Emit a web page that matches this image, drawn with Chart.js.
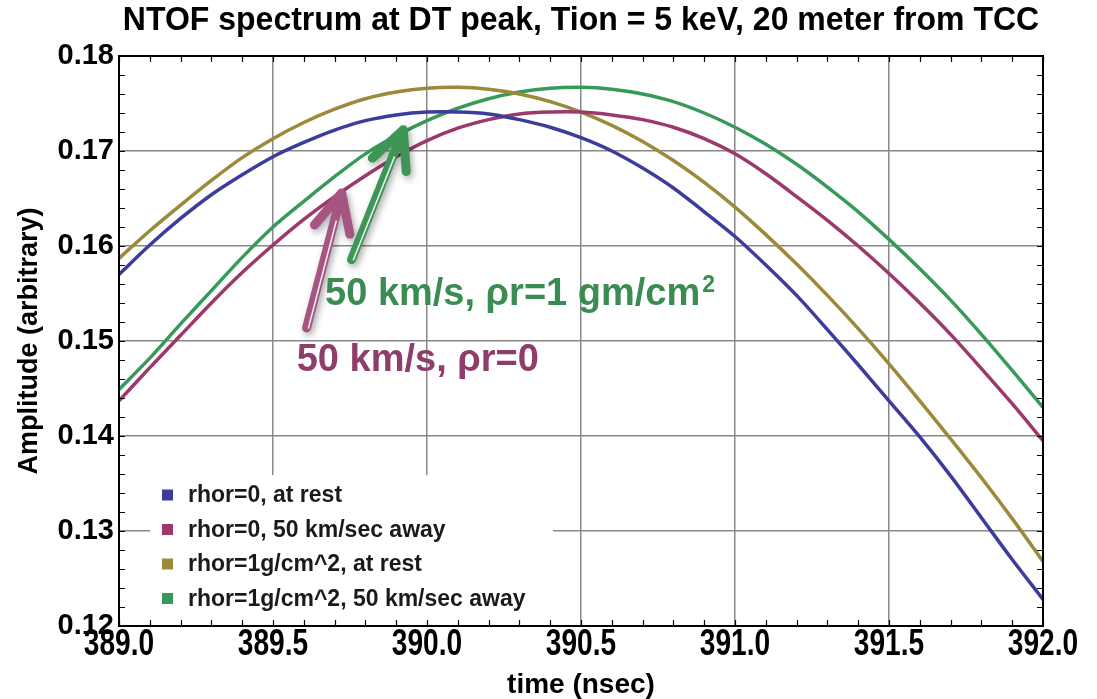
<!DOCTYPE html>
<html>
<head>
<meta charset="utf-8">
<script src="https://cdn.jsdelivr.net/npm/chart.js@4.4.0/dist/chart.umd.min.js"></script>
<style>
  html, body { margin: 0; padding: 0; background: #fff; }
  #wrap { width: 1097px; height: 699px; position: relative; }
</style>
</head>
<body>
<div id="wrap"><canvas id="ntofChart"></canvas></div>
<script>
// time of flight (nsec)
const times = [389.0, 389.1, 389.2, 389.3, 389.4, 389.5, 389.6, 389.7, 389.8, 389.9,
               390.0, 390.1, 390.2, 390.3, 390.4, 390.5, 390.6, 390.7, 390.8, 390.9,
               391.0, 391.1, 391.2, 391.3, 391.4, 391.5, 391.6, 391.7, 391.8, 391.9, 392.0];

// amplitude (arbitrary)
const rho0Rest = [0.1570, 0.1601, 0.1629, 0.1654, 0.1675, 0.1694, 0.1709, 0.1722, 0.1732, 0.1738,
                  0.1741, 0.1741, 0.1739, 0.1733, 0.1725, 0.1714, 0.1700, 0.1682, 0.1661, 0.1636,
                  0.1610, 0.1580, 0.1548, 0.1512, 0.1475, 0.1437, 0.1399, 0.1358, 0.1314, 0.1270, 0.1228];
const rho0Away = [0.1437, 0.1472, 0.1506, 0.1540, 0.1572, 0.1601, 0.1628, 0.1652, 0.1674, 0.1694,
                  0.1711, 0.1724, 0.1733, 0.1739, 0.1741, 0.1741, 0.1738, 0.1733, 0.1725, 0.1713,
                  0.1697, 0.1676, 0.1652, 0.1627, 0.1600, 0.1571, 0.1540, 0.1507, 0.1471, 0.1434, 0.1395];
const rho1Rest = [0.1587, 0.1616, 0.1643, 0.1669, 0.1693, 0.1713, 0.1730, 0.1744, 0.1755, 0.1762,
                  0.1766, 0.1767, 0.1765, 0.1760, 0.1752, 0.1741, 0.1727, 0.1710, 0.1690, 0.1667,
                  0.1641, 0.1612, 0.1581, 0.1548, 0.1513, 0.1476, 0.1437, 0.1397, 0.1356, 0.1313, 0.1268];
const rho1Away = [0.1449, 0.1482, 0.1518, 0.1553, 0.1588, 0.1620, 0.1647, 0.1673, 0.1697, 0.1716,
                  0.1732, 0.1745, 0.1755, 0.1762, 0.1766, 0.1767, 0.1765, 0.1760, 0.1752, 0.1740,
                  0.1725, 0.1707, 0.1686, 0.1662, 0.1636, 0.1607, 0.1576, 0.1543, 0.1507, 0.1469, 0.1430];

const seriesLabels = ['rhor=0, at rest', 'rhor=0, 50 km/sec away',
                      'rhor=1g/cm^2, at rest', 'rhor=1g/cm^2, 50 km/sec away'];
const seriesColors = ['#3c3c9c', '#9c386c', '#9a8a3a', '#389a5a'];

const xTickLabels = [389.0, 389.5, 390.0, 390.5, 391.0, 391.5, 392.0];
const yTickLabels = [0.12, 0.13, 0.14, 0.15, 0.16, 0.17, 0.18];

// callouts, anchored in data coordinates
const callouts = [
  { text: '50 km/s, \u03c1r=1 gm/cm', sup: '2', color: '#3b8c52', at: [389.669, 0.15382] },
  { text: '50 km/s, \u03c1r=0', sup: '', color: '#8f3d6b', at: [389.577, 0.14680] }
];
const arrows = [
  { color: '#a65582', from: [389.609, 0.15137], to: [389.723, 0.16558] },
  { color: '#3d9656', from: [389.755, 0.15856], to: [389.923, 0.17224] }
];

const SANS = '"Liberation Sans", Arial, sans-serif';
const near = (list, v) => list.some(t => Math.abs(t - v) < 1e-7);

// text squeezed horizontally, like the condensed face in the original
function squeezed(ctx, text, x, y, size, sx, align, baseline) {
  ctx.save();
  ctx.translate(x, y);
  ctx.scale(sx, 1);
  ctx.font = 'bold ' + size + 'px ' + SANS;
  ctx.textAlign = align;
  ctx.textBaseline = baseline;
  ctx.fillText(text, 0, 0);
  ctx.restore();
}

const decor = {
  id: 'decor',
  afterDatasetsDraw(chart) {
    const { ctx, chartArea: a, scales: { x, y } } = chart;
    // legend box
    const bx = a.left + 31, by = a.bottom - 151;
    ctx.save();
    ctx.fillStyle = '#fff';
    ctx.fillRect(bx, by, 403, 151);
    ctx.font = 'bold 23px ' + SANS;
    ctx.textBaseline = 'middle';
    chart.data.datasets.forEach((ds, i) => {
      const cy = by + 20 + i * 34.5;
      ctx.fillStyle = ds.borderColor;
      ctx.fillRect(bx + 12, cy - 5.5, 11, 11);
      ctx.fillStyle = '#1a1a1a';
      ctx.fillText(ds.label, bx + 38, cy + 1);
    });
    // inward ticks on all sides + frame
    ctx.strokeStyle = '#000';
    ctx.lineWidth = 1.2;
    ctx.beginPath();
    x.ticks.forEach(t => {
      const px = Math.round(x.getPixelForValue(t.value)) + 0.5;
      ctx.moveTo(px, a.bottom); ctx.lineTo(px, a.bottom - 6);
      ctx.moveTo(px, a.top); ctx.lineTo(px, a.top + 6);
    });
    y.ticks.forEach(t => {
      const py = Math.round(y.getPixelForValue(t.value)) + 0.5;
      ctx.moveTo(a.left, py); ctx.lineTo(a.left + 6, py);
      ctx.moveTo(a.right, py); ctx.lineTo(a.right - 6, py);
    });
    ctx.stroke();
    ctx.lineWidth = 2;
    ctx.strokeRect(a.left, a.top, a.right - a.left, a.bottom - a.top);
    ctx.restore();
  },
  afterDraw(chart) {
    const { ctx, chartArea: a, scales: { x, y } } = chart;
    ctx.save();
    ctx.fillStyle = '#000';
    // title
    squeezed(ctx, 'NTOF spectrum at DT peak, Tion = 5 keV, 20 meter from TCC',
             (a.left + a.right) / 2, 30, 33, 0.97, 'center', 'alphabetic');
    // x tick labels (condensed), placed from the scale's own ticks
    x.ticks.forEach(t => {
      if (near(xTickLabels, t.value)) {
        squeezed(ctx, t.value.toFixed(1), x.getPixelForValue(t.value), a.bottom + 29, 36, 0.78, 'center', 'alphabetic');
      }
    });

    // arrows
    arrows.forEach(ar => {
      const x0 = x.getPixelForValue(ar.from[0]), y0 = y.getPixelForValue(ar.from[1]);
      const x1 = x.getPixelForValue(ar.to[0]), y1 = y.getPixelForValue(ar.to[1]);
      const ang = Math.atan2(y1 - y0, x1 - x0);
      const head = 42, spread = 0.45;
      ctx.save();
      ctx.shadowColor = 'rgba(0,0,0,0.35)';
      ctx.shadowBlur = 7; ctx.shadowOffsetX = 2; ctx.shadowOffsetY = 3;
      ctx.strokeStyle = ar.color;
      ctx.lineCap = 'round'; ctx.lineJoin = 'round';
      ctx.lineWidth = 9;
      ctx.beginPath();
      ctx.moveTo(x0, y0); ctx.lineTo(x1, y1);
      ctx.moveTo(x1 - head * Math.cos(ang - spread), y1 - head * Math.sin(ang - spread));
      ctx.lineTo(x1, y1);
      ctx.lineTo(x1 - head * Math.cos(ang + spread), y1 - head * Math.sin(ang + spread));
      ctx.stroke();
      ctx.shadowColor = 'transparent';
      const nx = -Math.sin(ang) * 1.8, ny = Math.cos(ang) * 1.8;
      ctx.strokeStyle = 'rgba(255,255,255,0.9)';
      ctx.lineWidth = 1.5; ctx.lineCap = 'butt';
      ctx.beginPath();
      ctx.moveTo(x0 + nx, y0 + ny);
      ctx.lineTo(x1 - Math.cos(ang) * 28 + nx, y1 - Math.sin(ang) * 28 + ny);
      ctx.stroke();
      ctx.restore();
    });

    // callout text
    ctx.textAlign = 'left';
    ctx.textBaseline = 'alphabetic';
    callouts.forEach(c => {
      const px = x.getPixelForValue(c.at[0]), py = y.getPixelForValue(c.at[1]);
      ctx.fillStyle = c.color;
      ctx.font = 'bold 38px ' + SANS;
      ctx.fillText(c.text, px, py);
      if (c.sup) {
        const w = ctx.measureText(c.text).width;
        ctx.font = 'bold 23px ' + SANS;
        ctx.fillText(c.sup, px + w + 2, py - 13);
      }
    });
    ctx.restore();
  }
};

const ctx = document.getElementById('ntofChart').getContext('2d');
new Chart(ctx, {
  type: 'line',
  data: {
    datasets: [rho0Rest, rho0Away, rho1Rest, rho1Away].map((vals, i) => ({
      label: seriesLabels[i],
      data: times.map((t, j) => ({ x: t, y: vals[j] })),
      borderColor: seriesColors[i],
      backgroundColor: seriesColors[i],
      borderWidth: 3.5,
      pointRadius: 0,
      tension: 0.3,
      fill: false
    }))
  },
  options: {
    responsive: true,
    maintainAspectRatio: false,
    animation: false,
    layout: { padding: { top: 56, right: 54, left: 0, bottom: 0 } },
    plugins: {
      legend: { display: false },
      title: { display: false },
      tooltip: { enabled: false }
    },
    scales: {
      x: {
        type: 'linear',
        min: 389, max: 392,
        afterFit: s => { s.height = 73; },
        ticks: {
          display: false,
          stepSize: 0.1,
          autoSkip: false,
          maxRotation: 0, minRotation: 0
        },
        grid: {
          drawTicks: false,
          lineWidth: 1.5,
          color: c => (c.tick && near(xTickLabels, c.tick.value)) ? '#888' : 'rgba(0,0,0,0)'
        },
        border: { display: true, color: '#000', width: 2 },
        title: {
          display: true,
          text: 'time (nsec)',
          color: '#000',
          padding: { top: 0, bottom: 0 },
          font: { family: SANS, size: 28, weight: 'bold', lineHeight: 1 }
        }
      },
      y: {
        type: 'linear',
        min: 0.12, max: 0.18,
        afterFit: s => { s.width = 119; },
        ticks: {
          stepSize: 0.002,
          autoSkip: false,
          padding: 5,
          color: '#000',
          font: { family: SANS, size: 29, weight: 'bold' },
          callback: v => near(yTickLabels, v) ? v.toFixed(2) : ''
        },
        grid: {
          drawTicks: false,
          lineWidth: 1.5,
          color: c => (c.tick && near(yTickLabels, c.tick.value)) ? '#888' : 'rgba(0,0,0,0)'
        },
        border: { display: true, color: '#000', width: 2 },
        title: {
          display: true,
          text: 'Amplitude (arbitrary)',
          color: '#000',
          padding: { top: 16, bottom: 0 },
          font: { family: SANS, size: 27, weight: 'bold', lineHeight: 1 }
        }
      }
    }
  },
  plugins: [decor]
});
</script>
</body>
</html>
